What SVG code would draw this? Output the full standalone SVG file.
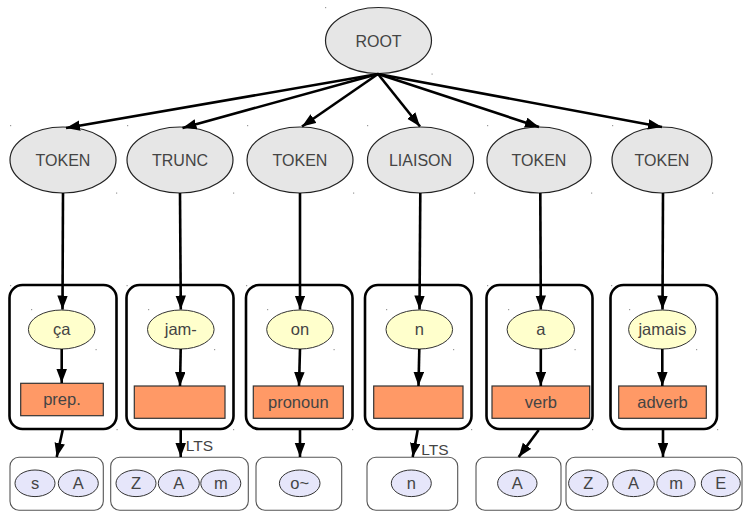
<svg xmlns="http://www.w3.org/2000/svg" width="743" height="511" viewBox="0 0 743 511">
  <defs>
    <marker id="arr" markerUnits="userSpaceOnUse" markerWidth="15" markerHeight="11" refX="14" refY="5.25" orient="auto">
      <path d="M0,0 L14,5.25 L0,10.5 z" fill="#000"/>
    </marker>
    <style>
      text { font-family: "Liberation Sans", Arial, sans-serif; fill: #444; text-anchor: middle; }
      .lbl { font-size: 16px; }
      .sm { font-size: 16.5px; }
      .edgelbl { font-size: 15.5px; }
      .top { fill: #e6e6e6; stroke: #222; stroke-width: 1.2; }
      .word { fill: #ffffcc; stroke: #333; stroke-width: 1; }
      .pos { fill: #ff9966; stroke: #333; stroke-width: 1.2; }
      .cluster { fill: none; stroke: #000; stroke-width: 2.6; }
      .phbox { fill: #fff; stroke: #555; stroke-width: 1.1; }
      .ph { fill: #e6e6fa; stroke: #333; stroke-width: 1; }
      .edge { fill: none; stroke: #000; stroke-width: 2.6; marker-end: url(#arr); }
      .dot { fill: #9a9a9a; }
    </style>
  </defs>
  <rect width="743" height="511" fill="#fff"/>

  <!-- rounded containers for each token (drawn first, under the edges) -->
  <g id="clusters">
    <rect class="cluster" x="9.5" y="285" width="107" height="144" rx="13"/>
    <rect class="cluster" x="126.5" y="285" width="107" height="144" rx="13"/>
    <rect class="cluster" x="246" y="285" width="106.5" height="144" rx="13"/>
    <rect class="cluster" x="365" y="285" width="106.5" height="144" rx="13"/>
    <rect class="cluster" x="486.5" y="285" width="106" height="144" rx="13"/>
    <rect class="cluster" x="610.5" y="285" width="106.5" height="144" rx="13"/>
  </g>

  <g id="n-root">
    <ellipse class="top" cx="378.5" cy="40.5" rx="53" ry="33"/>
    <text class="lbl" x="378.5" y="46.5">ROOT</text>
  </g>

  <g id="n-t1"><ellipse class="top" cx="63" cy="160" rx="53" ry="33"/><text class="lbl" x="63" y="165.5">TOKEN</text></g>
  <g id="n-t2"><ellipse class="top" cx="180" cy="160" rx="53" ry="33"/><text class="lbl" x="180" y="165.5">TRUNC</text></g>
  <g id="n-t3"><ellipse class="top" cx="300" cy="160" rx="53" ry="33"/><text class="lbl" x="300" y="165.5">TOKEN</text></g>
  <g id="n-t4"><ellipse class="top" cx="420.5" cy="160" rx="53" ry="33"/><text class="lbl" x="420.5" y="165.5">LIAISON</text></g>
  <g id="n-t5"><ellipse class="top" cx="539" cy="160" rx="52" ry="33"/><text class="lbl" x="539" y="165.5">TOKEN</text></g>
  <g id="n-t6"><ellipse class="top" cx="662" cy="160" rx="50" ry="33"/><text class="lbl" x="662" y="165.5">TOKEN</text></g>

  <!-- orthographic words -->
  <g id="n-w1"><ellipse class="word" cx="61.7" cy="329.5" rx="33.3" ry="19.5"/><text class="sm" x="61.7" y="335">ça</text></g>
  <g id="n-w2"><ellipse class="word" cx="180.8" cy="329.5" rx="33.3" ry="19.5"/><text class="sm" x="180.8" y="335">jam-</text></g>
  <g id="n-w3"><ellipse class="word" cx="300" cy="329.5" rx="33.3" ry="19.5"/><text class="sm" x="300" y="335">on</text></g>
  <g id="n-w4"><ellipse class="word" cx="419.3" cy="329.5" rx="33.3" ry="19.5"/><text class="sm" x="419.3" y="335">n</text></g>
  <g id="n-w5"><ellipse class="word" cx="540.8" cy="329.5" rx="33.7" ry="19.5"/><text class="sm" x="540.8" y="335">a</text></g>
  <g id="n-w6"><ellipse class="word" cx="662.3" cy="329.5" rx="33.7" ry="19.5"/><text class="sm" x="662.3" y="335">jamais</text></g>

  <!-- part-of-speech boxes -->
  <g id="n-p1"><rect class="pos" x="20.7" y="383.3" width="82.6" height="32.4"/><text class="sm" x="62" y="405">prep.</text></g>
  <g id="n-p2"><rect class="pos" x="134.3" y="386" width="90.7" height="32.3"/></g>
  <g id="n-p3"><rect class="pos" x="253.3" y="386" width="90" height="32.3"/><text class="sm" x="298.3" y="407.5">pronoun</text></g>
  <g id="n-p4"><rect class="pos" x="373.7" y="386" width="89.3" height="32.3"/></g>
  <g id="n-p5"><rect class="pos" x="492" y="386" width="97.7" height="32.3"/><text class="sm" x="540.8" y="407.5">verb</text></g>
  <g id="n-p6"><rect class="pos" x="618.7" y="386" width="87.6" height="32.3"/><text class="sm" x="662.5" y="407.5">adverb</text></g>

  <!-- phoneme sequences -->
  <g id="n-ph1">
    <rect class="phbox" x="10" y="457.3" width="93.3" height="53" rx="9"/>
    <ellipse class="ph" cx="35" cy="483.3" rx="20" ry="13.3"/><text class="sm" x="35" y="489">s</text>
    <ellipse class="ph" cx="78.3" cy="483.3" rx="20" ry="13.3"/><text class="sm" x="78.3" y="489">A</text>
  </g>
  <g id="n-ph2">
    <rect class="phbox" x="110.7" y="457.3" width="137.6" height="53" rx="9"/>
    <ellipse class="ph" cx="136" cy="483.3" rx="20" ry="13.3"/><text class="sm" x="136" y="489">Z</text>
    <ellipse class="ph" cx="178.8" cy="483.3" rx="20.5" ry="13.3"/><text class="sm" x="178.8" y="489">A</text>
    <ellipse class="ph" cx="220.8" cy="483.3" rx="20" ry="13.3"/><text class="sm" x="220.8" y="489">m</text>
  </g>
  <g id="n-ph3">
    <rect class="phbox" x="256" y="457.3" width="85.7" height="53" rx="9"/>
    <ellipse class="ph" cx="299.7" cy="483.3" rx="20.3" ry="13.3"/><text class="sm" x="299.7" y="489">o~</text>
  </g>
  <g id="n-ph4">
    <rect class="phbox" x="367" y="457.3" width="90.7" height="53" rx="9"/>
    <ellipse class="ph" cx="411.3" cy="483.3" rx="20" ry="13.3"/><text class="sm" x="411.3" y="489">n</text>
  </g>
  <g id="n-ph5">
    <rect class="phbox" x="476" y="457.3" width="85" height="53" rx="9"/>
    <ellipse class="ph" cx="517.3" cy="483.3" rx="19.7" ry="13.3"/><text class="sm" x="517.3" y="489">A</text>
  </g>
  <g id="n-ph6">
    <rect class="phbox" x="566" y="457.3" width="176" height="53" rx="9"/>
    <ellipse class="ph" cx="588.3" cy="483.3" rx="19.7" ry="13.3"/><text class="sm" x="588.3" y="489">Z</text>
    <ellipse class="ph" cx="633.5" cy="483.3" rx="20.8" ry="13.3"/><text class="sm" x="633.5" y="489">A</text>
    <ellipse class="ph" cx="676" cy="483.3" rx="19.2" ry="13.3"/><text class="sm" x="676" y="489">m</text>
    <ellipse class="ph" cx="720.8" cy="483.3" rx="19.5" ry="13.3"/><text class="sm" x="720.8" y="489">E</text>
  </g>

  <g id="edges">
    <!-- root to tokens -->
    <line class="edge" x1="378" y1="74" x2="66" y2="128"/>
    <line class="edge" x1="378" y1="74" x2="182.5" y2="128"/>
    <line class="edge" x1="378" y1="74" x2="302" y2="126.5"/>
    <line class="edge" x1="378" y1="74" x2="420" y2="126.5"/>
    <line class="edge" x1="378" y1="74" x2="539" y2="127"/>
    <line class="edge" x1="378" y1="74" x2="662" y2="127"/>
    <!-- tokens to words -->
    <line class="edge" x1="63" y1="193" x2="62.5" y2="309.5"/>
    <line class="edge" x1="180" y1="193" x2="180.8" y2="309.5"/>
    <line class="edge" x1="300" y1="193" x2="300" y2="309.5"/>
    <line class="edge" x1="420.3" y1="193" x2="419.5" y2="309.5"/>
    <line class="edge" x1="540.3" y1="193" x2="540.8" y2="309.5"/>
    <line class="edge" x1="663" y1="193" x2="662.5" y2="309.5"/>
    <!-- words to categories -->
    <line class="edge" x1="61.7" y1="349" x2="61.7" y2="383"/>
    <line class="edge" x1="180.7" y1="349" x2="180" y2="386"/>
    <line class="edge" x1="300" y1="349" x2="299" y2="386"/>
    <line class="edge" x1="419.3" y1="349" x2="418.5" y2="386"/>
    <line class="edge" x1="540.8" y1="349" x2="540.8" y2="386"/>
    <line class="edge" x1="662.3" y1="349" x2="662.3" y2="386"/>
    <!-- containers to phonemes -->
    <line class="edge" x1="62.7" y1="430" x2="56.7" y2="457"/>
    <line class="edge" x1="180.7" y1="430" x2="180.7" y2="457"/>
    <line class="edge" x1="300" y1="430" x2="300" y2="457"/>
    <line class="edge" x1="417.7" y1="430" x2="412.7" y2="457"/>
    <line class="edge" x1="538.7" y1="430" x2="518.7" y2="457"/>
    <line class="edge" x1="663" y1="430" x2="663" y2="457"/>
    <text class="edgelbl" x="199.5" y="451">LTS</text>
    <text class="edgelbl" x="435" y="454.5">LTS</text>
  </g>

  <!-- faint corner ticks left by the layout -->
  <g id="ticks" class="dot">
    <rect x="325" y="7" width="1.2" height="1.2"/><rect x="431.5" y="73.5" width="1.2" height="1.2"/>
    <rect x="10" y="125" width="1.2" height="1.2"/><rect x="116" y="192.5" width="1.2" height="1.2"/>
    <rect x="127" y="125" width="1.2" height="1.2"/><rect x="233" y="192.5" width="1.2" height="1.2"/>
    <rect x="247" y="125" width="1.2" height="1.2"/><rect x="353" y="192.5" width="1.2" height="1.2"/>
    <rect x="367" y="125" width="1.2" height="1.2"/><rect x="474" y="192.5" width="1.2" height="1.2"/>
    <rect x="487" y="125" width="1.2" height="1.2"/><rect x="591" y="192.5" width="1.2" height="1.2"/>
    <rect x="612" y="125" width="1.2" height="1.2"/><rect x="712" y="192.5" width="1.2" height="1.2"/>
    <rect x="10" y="285" width="1.2" height="1.2"/><rect x="116.5" y="429" width="1.2" height="1.2"/>
    <rect x="126.5" y="285" width="1.2" height="1.2"/><rect x="233" y="429" width="1.2" height="1.2"/>
    <rect x="246" y="285" width="1.2" height="1.2"/><rect x="352" y="429" width="1.2" height="1.2"/>
    <rect x="471" y="429" width="1.2" height="1.2"/>
    <rect x="487" y="285" width="1.2" height="1.2"/><rect x="592" y="429" width="1.2" height="1.2"/>
    <rect x="611" y="285" width="1.2" height="1.2"/><rect x="717" y="429" width="1.2" height="1.2"/>
    <rect x="31" y="309" width="1.2" height="1.2"/><rect x="95.5" y="349" width="1.2" height="1.2"/>
    <rect x="148" y="309" width="1.2" height="1.2"/><rect x="214" y="349" width="1.2" height="1.2"/>
    <rect x="267" y="309" width="1.2" height="1.2"/><rect x="333.5" y="349" width="1.2" height="1.2"/>
    <rect x="386" y="309" width="1.2" height="1.2"/><rect x="453" y="349" width="1.2" height="1.2"/>
    <rect x="508" y="309" width="1.2" height="1.2"/><rect x="574.5" y="349" width="1.2" height="1.2"/>
    <rect x="629" y="309" width="1.2" height="1.2"/><rect x="696" y="349" width="1.2" height="1.2"/>
  </g>
</svg>
